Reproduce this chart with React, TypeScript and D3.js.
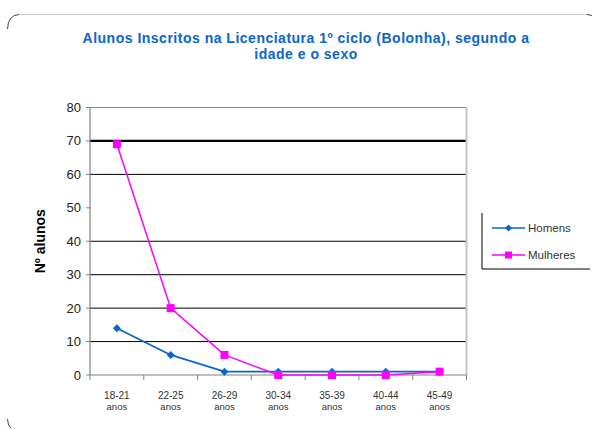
import React from "react";
import * as d3 from "d3";

const categories = ["18-21", "22-25", "26-29", "30-34", "35-39", "40-44", "45-49"];
const homens = [14, 6, 1, 1, 1, 1, 1];
const mulheres = [69, 20, 6, 0, 0, 0, 1];
const yTicks = [0, 10, 20, 30, 40, 50, 60, 70, 80];
const gridValues = [10, 20, 30, 40, 60, 70];
const titleLines = ["Alunos Inscritos na Licenciatura 1º ciclo (Bolonha), segundo a", "idade e o sexo"];
const seriesNames = ["Homens", "Mulheres"];

const W = 596;
const H = 429;
const left = 90;
const right = 466.5;
const top = 107.5;
const bottom = 375;
const font = "'Liberation Sans', Arial, sans-serif";
const blue = "#0A66C8";
const pink = "#FF00FF";

export default function App() {
  const band = d3.scaleBand<string>().domain(categories).range([left, right]);
  const y = d3.scaleLinear().domain([0, 80]).range([bottom, top]);
  const xc = (i: number) => (band(categories[i]) as number) + band.bandwidth() / 2;
  const line = d3
    .line<number>()
    .x((_, i) => xc(i))
    .y((d) => y(d));

  return (
    <svg
      width={W}
      height={H}
      style={{ position: "absolute", left: 0, top: 0, background: "#fff" }}
      fontFamily={font}
    >
      <rect x={0} y={0} width={W} height={H} fill="#fff" />
      {/* outer frame hints */}
      <path d="M18,14.5 L590,14.5" stroke="#cfcfcf" strokeWidth={1.2} fill="none" />
      <path d="M7.5,29 Q8,15 19,14.5" stroke="#444" strokeWidth={1} fill="none" />
      <path d="M587,14.5 L592,15.5" stroke="#555" strokeWidth={1.2} fill="none" />
      <path d="M7.5,419 L8.5,425 L11,428" stroke="#444" strokeWidth={1} fill="none" />

      {/* title */}
      {titleLines.map((t, i) => (
        <text
          key={i}
          x={306}
          y={43 + i * 16}
          textAnchor="middle"
          fontSize={14}
          letterSpacing={0.5}
          fontWeight="bold"
          fill="#0A66C8"
        >
          {t}
        </text>
      ))}

      {/* gridlines */}
      {gridValues.map((v) => (
        <line
          key={v}
          x1={left}
          x2={right}
          y1={y(v)}
          y2={y(v)}
          stroke="#000"
          strokeWidth={v === 70 ? 2.2 : 1}
        />
      ))}
      {/* plot borders */}
      <line x1={left} x2={right} y1={top} y2={top} stroke="#888" strokeWidth={1.2} />
      <line x1={right} x2={right} y1={top} y2={bottom} stroke="#c4c4c4" strokeWidth={2} />
      <line x1={left} x2={left} y1={top} y2={bottom} stroke="#808080" strokeWidth={1.2} />
      <line x1={left} x2={right} y1={bottom} y2={bottom} stroke="#808080" strokeWidth={1.2} />

      {/* y ticks */}
      {yTicks.map((v) => (
        <g key={v}>
          <line x1={left - 4} x2={left} y1={y(v)} y2={y(v)} stroke="#808080" />
          <text x={81} y={y(v) + 4.5} textAnchor="end" fontSize={13} fill="#222">
            {v}
          </text>
        </g>
      ))}
      {/* x ticks */}
      {categories.map((c, i) => {
        const x0 = band(c) as number;
        return (
          <g key={c}>
            <line x1={x0} x2={x0} y1={bottom} y2={bottom + 5} stroke="#808080" />
            {i === categories.length - 1 && (
              <line x1={x0 + band.bandwidth()} x2={x0 + band.bandwidth()} y1={bottom} y2={bottom + 5} stroke="#808080" />
            )}
            <text x={xc(i)} y={399} textAnchor="middle" fontSize={10} fill="#333">
              {c}
            </text>
            <text x={xc(i)} y={410} textAnchor="middle" fontSize={9.5} fill="#333">
              anos
            </text>
          </g>
        );
      })}

      {/* y axis title */}
      <text
        transform={`translate(45,${(top + bottom) / 2}) rotate(-90)`}
        textAnchor="middle"
        fontSize={14}
        fontWeight="bold"
        fill="#000"
      >
        Nº alunos
      </text>

      {/* Homens */}
      <path d={line(homens) || ""} fill="none" stroke={blue} strokeWidth={1.8} />
      {homens.map((v, i) => (
        <path
          key={i}
          d={`M${xc(i)},${y(v) - 4} L${xc(i) + 4},${y(v)} L${xc(i)},${y(v) + 4} L${xc(i) - 4},${y(v)} Z`}
          fill={blue}
        />
      ))}
      {/* Mulheres */}
      <path d={line(mulheres) || ""} fill="none" stroke={pink} strokeWidth={1.5} />
      {mulheres.map((v, i) => (
        <rect key={i} x={xc(i) - 4} y={y(v) - 4} width={8} height={8} fill={pink} />
      ))}

      {/* legend */}
      <line x1={482} x2={482} y1={213} y2={269} stroke="#000" strokeWidth={1} />
      <line x1={482} x2={590} y1={269} y2={269} stroke="#000" strokeWidth={1} />
      {seriesNames.map((n, i) => {
        const ly = 228 + i * 27;
        return (
          <g key={n}>
            <line x1={492} x2={525} y1={ly} y2={ly} stroke={i === 0 ? blue : pink} strokeWidth={1.6} />
            {i === 0 ? (
              <path d={`M508.5,${ly - 3.5} L512,${ly} L508.5,${ly + 3.5} L505,${ly} Z`} fill={blue} />
            ) : (
              <rect x={505} y={ly - 3.5} width={7} height={7} fill={pink} />
            )}
            <text x={528} y={ly + 4} fontSize={11.5} fill="#333">
              {n}
            </text>
          </g>
        );
      })}
    </svg>
  );
}
